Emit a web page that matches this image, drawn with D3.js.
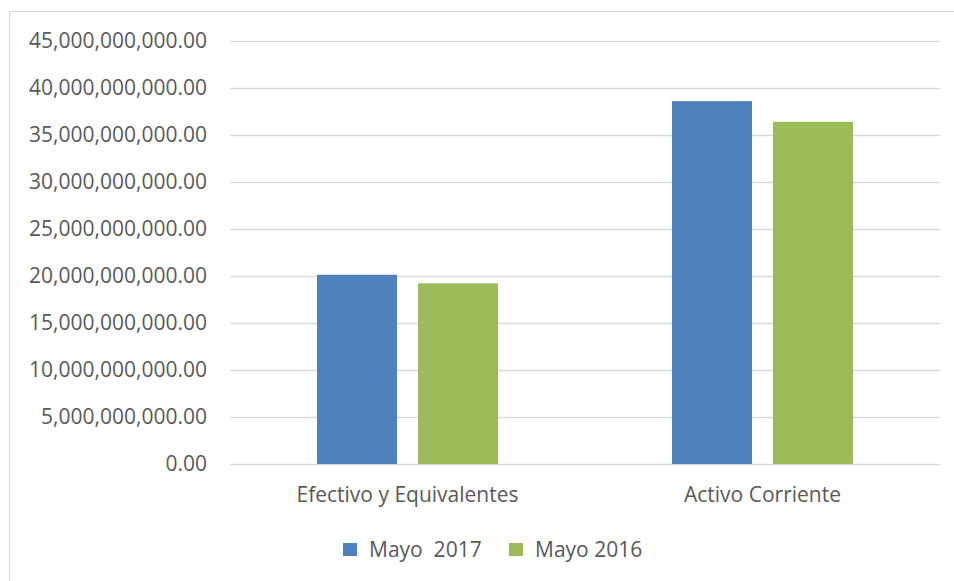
<!DOCTYPE html>
<html>
<head>
<meta charset="utf-8">
<script src="https://cdn.jsdelivr.net/npm/d3@7"></script>
<style>
  body { margin: 0; background: #fff; }
  svg text { font-family: "Open Sans", sans-serif; fill: #595959; }
</style>
</head>
<body>
<div id="chart"></div>
<script>
const categories = ["Efectivo y Equivalentes", "Activo Corriente"];
const seriesNames = ["Mayo  2017", "Mayo 2016"];
const mayo2017 = [20130000000, 38600000000];
const mayo2016 = [19220000000, 36400000000];
const yTicks = [0, 5e9, 10e9, 15e9, 20e9, 25e9, 30e9, 35e9, 40e9, 45e9];
const colors = ["#4f81bd", "#9bbb59"];

const width = 954, height = 581;
const margin = {left: 230, right: 14, top: 41, bottom: 117};

const svg = d3.select("#chart").append("svg")
  .attr("width", width).attr("height", height);

// frame
svg.append("rect")
  .attr("x", 9.5).attr("y", 11.5)
  .attr("width", width).attr("height", height)
  .attr("fill", "none").attr("stroke", "#d9d9d9");

const x0 = d3.scaleBand().domain(categories)
  .range([margin.left, width - margin.right]);
const y = d3.scaleLinear().domain([0, 45e9])
  .range([height - margin.bottom, margin.top]);

// gridlines
svg.append("g").selectAll("line").data(yTicks).enter().append("line")
  .attr("x1", margin.left).attr("x2", width - margin.right)
  .attr("y1", d => Math.round(y(d)) + 0.5).attr("y2", d => Math.round(y(d)) + 0.5)
  .attr("stroke", "#d9d9d9").attr("stroke-width", 1.5);

const fmt = d3.format(",.2f");
svg.append("g").selectAll("text").data(yTicks).enter().append("text")
  .attr("x", 207).attr("y", d => y(d))
  .attr("dy", "0.35em")
  .attr("text-anchor", "end")
  .style("font-size", "21px")
  .text(d => fmt(d));

const barW = 80, gap = 21;
const rows = categories.map((c, i) => ({cat: c, vals: [mayo2017[i], mayo2016[i]]}));

const groups = svg.append("g").selectAll("g").data(rows).enter().append("g");
groups.selectAll("rect")
  .data(d => d.vals.map((v, j) => ({cat: d.cat, v: v, j: j})))
  .enter().append("rect")
  .attr("x", d => x0(d.cat) + x0.bandwidth() / 2 - barW - gap / 2 + d.j * (barW + gap))
  .attr("y", d => y(d.v))
  .attr("width", barW)
  .attr("height", d => y(0) - y(d.v))
  .attr("fill", d => colors[d.j]);

// category labels
svg.append("g").selectAll("text").data(categories).enter().append("text")
  .attr("x", d => x0(d) + x0.bandwidth() / 2)
  .attr("y", 495).attr("dy", "0.35em")
  .attr("text-anchor", "middle")
  .style("font-size", "21px")
  .text(d => d);

// legend
const legendX = [343, 509];
const legend = svg.append("g").selectAll("g").data(seriesNames).enter().append("g")
  .attr("transform", (d, i) => `translate(${legendX[i]},543)`);
legend.append("rect").attr("width", 14).attr("height", 13)
  .attr("fill", (d, i) => colors[i]);
legend.append("text").attr("x", 26).attr("y", 6.5).attr("dy", "0.35em")
  .style("font-size", "21px")
  .attr("xml:space", "preserve")
  .text(d => d);
</script>
</body>
</html>
